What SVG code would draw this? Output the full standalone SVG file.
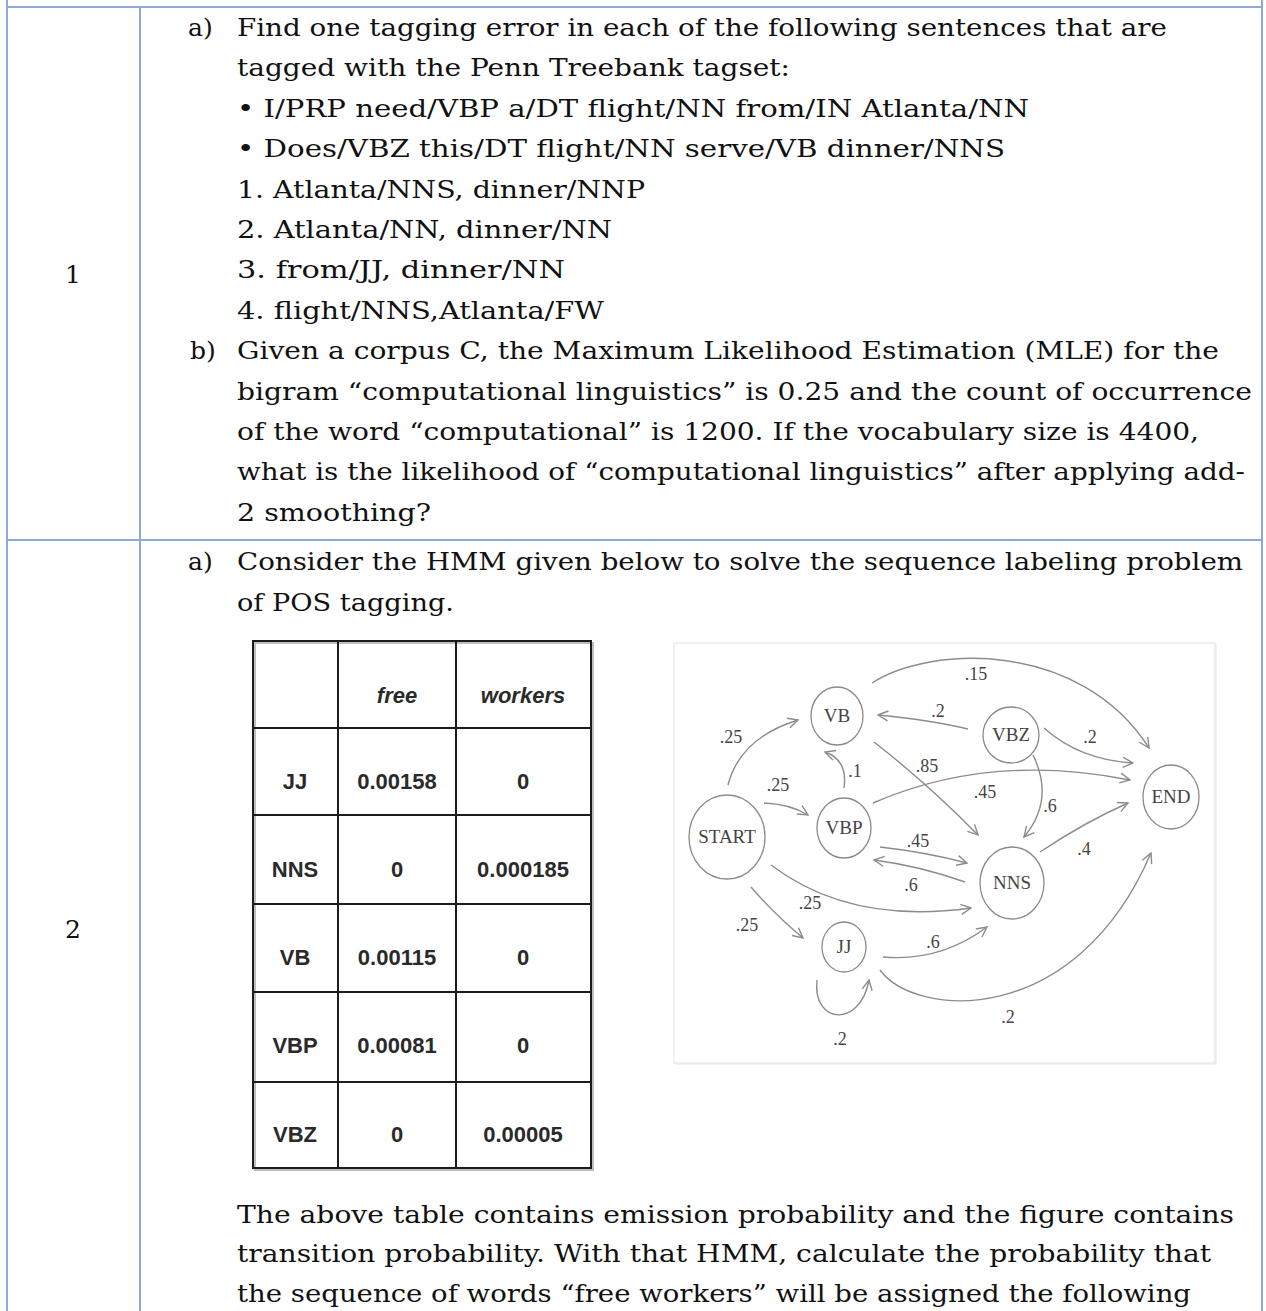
<svg xmlns="http://www.w3.org/2000/svg" width="1266" height="1311" viewBox="0 0 1266 1311">
<defs>
<style>
.body{font-family:"DejaVu Serif","Liberation Serif",serif;font-size:25px;fill:#111}
.grid{stroke:#8EAADB;stroke-width:2;fill:none}
.tb{stroke:#1c1c1c;stroke-width:2;fill:none}
.tt{font-family:"Liberation Sans",Arial,sans-serif;font-size:22px;font-weight:bold;fill:#2a2a2a;text-anchor:middle}
.ti{font-style:italic}
.node{fill:#fff;stroke:#8a8a8a;stroke-width:1.3}
.nl{font-family:"Liberation Serif","Times New Roman",serif;font-size:19px;fill:#444;text-anchor:middle}
.el{font-family:"Liberation Serif","Times New Roman",serif;font-size:18px;fill:#444;text-anchor:middle}
.edge{fill:none;stroke:#8c8c8c;stroke-width:1.4;marker-end:url(#arr)}
</style>
<marker id="arr" viewBox="0 0 12 12" refX="11" refY="6" markerWidth="12" markerHeight="12" markerUnits="userSpaceOnUse" orient="auto">
<path d="M1,1 L11,6 L1,11" fill="none" stroke="#8c8c8c" stroke-width="1.4"/>
</marker>
</defs>
<rect x="0" y="0" width="1266" height="1311" fill="#fff"/>

<g id="outer-grid">
<line class="grid" x1="7" y1="0" x2="7" y2="1311"/>
<line class="grid" x1="1262" y1="0" x2="1262" y2="1311"/>
<line class="grid" x1="140" y1="7" x2="140" y2="1311"/>
<line class="grid" x1="7" y1="7" x2="1262" y2="7"/>
<line class="grid" x1="7" y1="540" x2="1262" y2="540"/>
</g>

<g id="row1" class="body">
<text x="73" y="283" text-anchor="middle">1</text>
<text x="188" y="36">a)</text>
<text x="237" y="36" textLength="930" lengthAdjust="spacingAndGlyphs">Find one tagging error in each of the following sentences that are</text>
<text x="237" y="76" textLength="553" lengthAdjust="spacingAndGlyphs">tagged with the Penn Treebank tagset:</text>
<text x="237" y="117" textLength="792" lengthAdjust="spacingAndGlyphs">• I/PRP need/VBP a/DT flight/NN from/IN Atlanta/NN</text>
<text x="237" y="157" textLength="768" lengthAdjust="spacingAndGlyphs">• Does/VBZ this/DT flight/NN serve/VB dinner/NNS</text>
<text x="237" y="198" textLength="408" lengthAdjust="spacingAndGlyphs">1. Atlanta/NNS, dinner/NNP</text>
<text x="237" y="238" textLength="375" lengthAdjust="spacingAndGlyphs">2. Atlanta/NN, dinner/NN</text>
<text x="237" y="278" textLength="328" lengthAdjust="spacingAndGlyphs">3. from/JJ, dinner/NN</text>
<text x="237" y="319" textLength="367" lengthAdjust="spacingAndGlyphs">4. flight/NNS,Atlanta/FW</text>
<text x="190" y="359">b)</text>
<text x="237" y="359" textLength="982" lengthAdjust="spacingAndGlyphs">Given a corpus C, the Maximum Likelihood Estimation (MLE) for the</text>
<text x="237" y="400" textLength="1015" lengthAdjust="spacingAndGlyphs">bigram “computational linguistics” is 0.25 and the count of occurrence</text>
<text x="237" y="440" textLength="962" lengthAdjust="spacingAndGlyphs">of the word “computational” is 1200. If the vocabulary size is 4400,</text>
<text x="237" y="480" textLength="1008" lengthAdjust="spacingAndGlyphs">what is the likelihood of “computational linguistics” after applying add-</text>
<text x="237" y="521" textLength="194" lengthAdjust="spacingAndGlyphs">2 smoothing?</text>
</g>

<g id="row2" class="body">
<text x="73" y="938" text-anchor="middle">2</text>
<text x="188" y="570">a)</text>
<text x="237" y="570" textLength="1006" lengthAdjust="spacingAndGlyphs">Consider the HMM given below to solve the sequence labeling problem</text>
<text x="237" y="611" textLength="217" lengthAdjust="spacingAndGlyphs">of POS tagging.</text>
<text x="237" y="1223" textLength="997" lengthAdjust="spacingAndGlyphs">The above table contains emission probability and the figure contains</text>
<text x="237" y="1262" textLength="974" lengthAdjust="spacingAndGlyphs">transition probability. With that HMM, calculate the probability that</text>
<text x="237" y="1302" textLength="954" lengthAdjust="spacingAndGlyphs">the sequence of words “free workers” will be assigned the following</text>
</g>

<g id="emission-table">
<rect x="255" y="643" width="338" height="527" fill="none" stroke="#bdbdbd" stroke-width="2"/>
<rect x="253" y="641" width="338" height="527" fill="#fff" class="tb"/>
<line class="tb" x1="338" y1="641" x2="338" y2="1168"/>
<line class="tb" x1="456" y1="641" x2="456" y2="1168"/>
<line class="tb" x1="253" y1="728" x2="591" y2="728"/>
<line class="tb" x1="253" y1="815" x2="591" y2="815"/>
<line class="tb" x1="253" y1="904" x2="591" y2="904"/>
<line class="tb" x1="253" y1="992" x2="591" y2="992"/>
<line class="tb" x1="253" y1="1082" x2="591" y2="1082"/>
<text class="tt ti" x="397" y="703">free</text>
<text class="tt ti" x="523" y="703">workers</text>
<text class="tt" x="295" y="789">JJ</text>
<text class="tt" x="397" y="789">0.00158</text>
<text class="tt" x="523" y="789">0</text>
<text class="tt" x="295" y="877">NNS</text>
<text class="tt" x="397" y="877">0</text>
<text class="tt" x="523" y="877">0.000185</text>
<text class="tt" x="295" y="965">VB</text>
<text class="tt" x="397" y="965">0.00115</text>
<text class="tt" x="523" y="965">0</text>
<text class="tt" x="295" y="1053">VBP</text>
<text class="tt" x="397" y="1053">0.00081</text>
<text class="tt" x="523" y="1053">0</text>
<text class="tt" x="295" y="1142">VBZ</text>
<text class="tt" x="397" y="1142">0</text>
<text class="tt" x="523" y="1142">0.00005</text>
</g>

<g id="hmm-panel">
<rect x="676" y="645" width="541" height="420" fill="#f2f2f2"/>
<rect x="674" y="643" width="541" height="420" fill="#fff" stroke="#e6e6e6" stroke-width="1.2"/>
</g>

<g id="connectors">
<path class="edge" d="M728,785 Q740,738 798,720"/>
<path class="edge" d="M764,803 Q790,804 808,815"/>
<path class="edge" d="M844,788 Q848,760 825,752"/>
<path class="edge" d="M874,742 Q928,784 978,835"/>
<path class="edge" d="M968,729 Q930,720 878,715"/>
<path class="edge" d="M1044,728 Q1080,760 1133,763"/>
<path class="edge" d="M872,683 C930,645 1080,640 1149,748"/>
<path class="edge" d="M873,803 Q990,752 1130,780"/>
<path class="edge" d="M1033,755 Q1055,800 1024,837"/>
<path class="edge" d="M1040,852 Q1085,822 1128,803"/>
<path class="edge" d="M880,847 Q925,852 967,863"/>
<path class="edge" d="M965,882 Q920,866 874,860"/>
<path class="edge" d="M771,865 Q850,925 971,908"/>
<path class="edge" d="M751,887 Q775,915 803,938"/>
<path class="edge" d="M883,957 Q940,962 987,927"/>
<path class="edge" d="M880,970 C915,1018 1075,1030 1151,853"/>
<path class="edge" d="M817,980 C812,1024 860,1029 869,980"/>
<text class="el" x="976" y="680">.15</text>
<text class="el" x="938" y="717">.2</text>
<text class="el" x="731" y="743">.25</text>
<text class="el" x="1090" y="743">.2</text>
<text class="el" x="778" y="791">.25</text>
<text class="el" x="855" y="777">.1</text>
<text class="el" x="927" y="772">.85</text>
<text class="el" x="985" y="798">.45</text>
<text class="el" x="1050" y="812">.6</text>
<text class="el" x="918" y="847">.45</text>
<text class="el" x="1084" y="855">.4</text>
<text class="el" x="911" y="891">.6</text>
<text class="el" x="810" y="909">.25</text>
<text class="el" x="747" y="931">.25</text>
<text class="el" x="933" y="948">.6</text>
<text class="el" x="1008" y="1023">.2</text>
<text class="el" x="840" y="1045">.2</text>
</g>

<g id="node-START"><ellipse class="node" cx="727" cy="837" rx="38" ry="42"/><text class="nl" x="727" y="843">START</text></g>
<g id="node-VB"><ellipse class="node" cx="837" cy="716" rx="26" ry="29"/><text class="nl" x="837" y="722">VB</text></g>
<g id="node-VBZ"><ellipse class="node" cx="1011" cy="735" rx="28" ry="28"/><text class="nl" x="1011" y="741">VBZ</text></g>
<g id="node-VBP"><ellipse class="node" cx="844" cy="828" rx="27" ry="30"/><text class="nl" x="844" y="834">VBP</text></g>
<g id="node-NNS"><ellipse class="node" cx="1012" cy="883" rx="32" ry="36"/><text class="nl" x="1012" y="889">NNS</text></g>
<g id="node-JJ"><ellipse class="node" cx="844" cy="947" rx="22" ry="25"/><text class="nl" x="844" y="953">JJ</text></g>
<g id="node-END"><ellipse class="node" cx="1171" cy="797" rx="28" ry="32"/><text class="nl" x="1171" y="803">END</text></g>
</svg>
